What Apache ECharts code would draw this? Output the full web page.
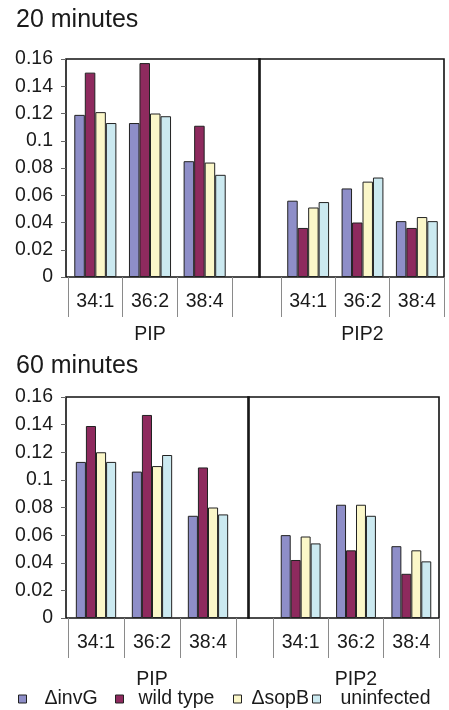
<!DOCTYPE html>
<html><head><meta charset="utf-8">
<script src="https://cdn.jsdelivr.net/npm/echarts@6/dist/echarts.min.js"></script>
<style>html,body{margin:0;padding:0;background:#fff}#c{width:449px;height:710px}</style>
</head><body><div id="c"></div>
<script>
// ---- data ----
const categories = ['34:1', '36:2', '38:4'];
const groups = ['PIP', 'PIP2'];
const seriesNames = ['ΔinvG', 'wild type', 'ΔsopB', 'uninfected'];
const titles = ['20 minutes', '60 minutes'];
const yMin = 0, yMax = 0.16, yInterval = 0.02;
// order: PIP 34:1, 36:2, 38:4, PIP2 34:1, 36:2, 38:4
const m20_invG   = [0.119, 0.113, 0.085, 0.056, 0.065, 0.041];
const m20_wild   = [0.150, 0.157, 0.111, 0.036, 0.040, 0.036];
const m20_sopB   = [0.121, 0.120, 0.084, 0.051, 0.070, 0.044];
const m20_uninf  = [0.113, 0.118, 0.075, 0.055, 0.073, 0.041];
const m60_invG   = [0.113, 0.106, 0.074, 0.060, 0.082, 0.052];
const m60_wild   = [0.139, 0.147, 0.109, 0.042, 0.049, 0.032];
const m60_sopB   = [0.120, 0.110, 0.080, 0.059, 0.082, 0.049];
const m60_uninf  = [0.113, 0.118, 0.075, 0.054, 0.074, 0.041];
const chartValues = [
  [m20_invG, m20_wild, m20_sopB, m20_uninf],
  [m60_invG, m60_wild, m60_sopB, m60_uninf]
];

// ---- styling / layout ----
const colors = ['#8e8ec8', '#8e2a5e', '#fbf7c9', '#cbe9f0'];
const FONT = 'Liberation Sans, Arial, Helvetica, sans-serif';
const TXT = '#1a1a1a';
const FS = 19.5;
const layouts = [
  {titleTop: 8, top: 59, bottom: 277, left: 66, divider: 259, right: 444, barL: [68, 232], barR: [281, 444], nameGap: 48, gap: '23%'},
  {titleTop: 354, top: 397, bottom: 618, left: 66, divider: 248, right: 439, barL: [68, 236], barR: [273, 439], nameGap: 52, gap: '28%'}
];

const grid = [], xAxis = [], yAxis = [], series = [], title = [];
layouts.forEach((L, c) => {
  const h = L.bottom - L.top;
  title.push({text: titles[c], left: 16, top: L.titleTop, padding: 0,
    textStyle: {fontSize: 25, fontWeight: 'normal', color: TXT, fontFamily: FONT}});
  const gs = [
    {left: L.left, width: L.divider + 1 - L.left},
    {left: L.divider, width: L.right - L.divider},
    {left: L.barL[0], width: L.barL[1] - L.barL[0]},
    {left: L.barR[0], width: L.barR[1] - L.barR[0]}
  ];
  gs.forEach((g, k) => {
    const gi = grid.length;
    const frame = k < 2;
    grid.push({left: g.left, width: g.width, top: L.top, height: h,
      show: frame, borderColor: '#111', borderWidth: frame ? 1.6 : 0,
      backgroundColor: 'transparent', containLabel: false, outerBoundsMode: 'none'});
    if (frame) {
      xAxis.push({type: 'category', gridIndex: gi, data: [''], show: false});
    } else {
      const s = k - 2;
      xAxis.push({type: 'category', gridIndex: gi, data: categories,
        axisLine: {show: false},
        axisTick: {show: true, length: 40, inside: false, lineStyle: {color: '#8a8a8a', width: 1}},
        axisLabel: {fontSize: FS, color: TXT, margin: 15, fontFamily: FONT},
        name: groups[s], nameLocation: 'middle', nameGap: L.nameGap,
        nameTextStyle: {fontSize: FS, color: TXT, fontFamily: FONT}});
    }
    const showY = (k === 0);
    yAxis.push({type: 'value', gridIndex: gi, min: yMin, max: yMax, interval: yInterval,
      show: showY,
      axisLine: {show: false},
      axisTick: {show: true, length: 5, lineStyle: {color: '#666'}},
      splitLine: {show: false},
      axisLabel: {fontSize: FS, color: TXT, margin: 13, fontFamily: FONT}});
    if (!frame) {
      const s = k - 2;
      chartValues[c].forEach((vals, i) => {
        series.push({type: 'bar', name: seriesNames[i], xAxisIndex: gi, yAxisIndex: gi,
          data: vals.slice(s * 3, s * 3 + 3), barGap: '0%', barCategoryGap: L.gap,
          itemStyle: {color: colors[i], borderColor: '#222', borderWidth: 1},
          emphasis: {disabled: true}, animation: false});
      });
    }
  });
});

const iconX = [18, 115, 233, 312];
const textPad = [13, 10, 5, 15];
const legend = seriesNames.map((n, i) => ({
  data: [n], left: iconX[i], top: 689, padding: 0, icon: 'rect',
  itemWidth: 8, itemHeight: 8, selectedMode: false,
  itemStyle: {borderColor: '#222', borderWidth: 1},
  textStyle: {fontSize: FS, color: TXT, fontFamily: FONT, padding: [0, 0, 0, textPad[i]]}
}));

const chart = echarts.init(document.getElementById('c'));
chart.setOption({animation: false, textStyle: {fontFamily: FONT},
  title, grid, xAxis, yAxis, series, legend});
</script></body></html>
